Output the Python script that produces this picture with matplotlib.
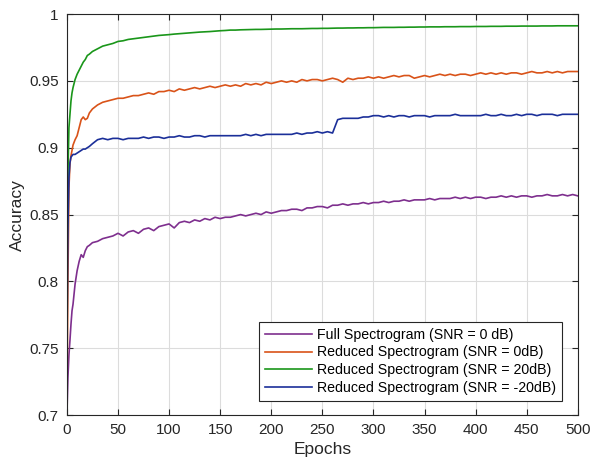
import matplotlib.pyplot as plt
import numpy as np

plt.rcParams['font.family'] = ['Liberation Sans', 'DejaVu Sans']

epochs = [0, 1, 2, 3, 4, 5, 6, 8, 10, 12, 14, 16, 18, 20, 22, 25] + list(range(30, 501, 5))

full_0db = [0.700, 0.728, 0.745, 0.756, 0.768, 0.778, 0.783, 0.798, 0.808, 0.815, 0.820, 0.818, 0.823, 0.826, 0.827, 0.829,
            0.830, 0.832, 0.833, 0.834, 0.836, 0.834, 0.837, 0.838, 0.836, 0.839, 0.840, 0.838, 0.841, 0.842, 0.843,
            0.840, 0.844, 0.845, 0.844, 0.846, 0.845, 0.847, 0.846, 0.848, 0.847, 0.848, 0.848, 0.849, 0.850, 0.849,
            0.850, 0.851, 0.850, 0.852, 0.851, 0.852, 0.853, 0.853, 0.854, 0.854, 0.853, 0.855, 0.855, 0.856, 0.856,
            0.855, 0.857, 0.857, 0.858, 0.857, 0.858, 0.858, 0.859, 0.858, 0.859, 0.859, 0.860, 0.859, 0.860, 0.860,
            0.861, 0.860, 0.861, 0.861, 0.861, 0.862, 0.861, 0.862, 0.862, 0.862, 0.863, 0.862, 0.863, 0.862, 0.863,
            0.863, 0.862, 0.863, 0.863, 0.864, 0.863, 0.864, 0.863, 0.864, 0.864, 0.863, 0.864, 0.864, 0.865, 0.864,
            0.864, 0.865, 0.864, 0.865, 0.864]

reduced_0db = [0.708, 0.800, 0.870, 0.888, 0.894, 0.898, 0.902, 0.906, 0.909, 0.915, 0.921, 0.923, 0.921, 0.922, 0.926, 0.929,
               0.932, 0.934, 0.935, 0.936, 0.937, 0.937, 0.938, 0.939, 0.939, 0.940, 0.941, 0.940, 0.942, 0.942, 0.943,
               0.942, 0.944, 0.943, 0.944, 0.945, 0.944, 0.945, 0.946, 0.945, 0.946, 0.947, 0.946, 0.947, 0.946, 0.948,
               0.947, 0.948, 0.947, 0.949, 0.948, 0.949, 0.950, 0.949, 0.950, 0.949, 0.951, 0.950, 0.951, 0.951, 0.950,
               0.951, 0.952, 0.951, 0.949, 0.952, 0.951, 0.952, 0.952, 0.953, 0.952, 0.953, 0.952, 0.953, 0.954, 0.953,
               0.954, 0.954, 0.952, 0.953, 0.954, 0.953, 0.954, 0.955, 0.954, 0.955, 0.954, 0.955, 0.955, 0.954, 0.955,
               0.956, 0.955, 0.956, 0.955, 0.956, 0.955, 0.956, 0.956, 0.955, 0.956, 0.957, 0.956, 0.956, 0.957, 0.956,
               0.957, 0.956, 0.957, 0.957, 0.957]

reduced_20db = [0.811, 0.880, 0.915, 0.925, 0.935, 0.941, 0.945, 0.951, 0.955, 0.958, 0.961, 0.964, 0.966, 0.969, 0.970, 0.972,
                0.974, 0.976, 0.977, 0.978, 0.9795, 0.980, 0.981, 0.9815, 0.982, 0.9825, 0.983, 0.9835, 0.984, 0.9843,
                0.9846, 0.985, 0.9853, 0.9856, 0.9859, 0.9862, 0.9865, 0.9867, 0.9869, 0.9872,
                0.9875, 0.9877, 0.988, 0.988, 0.9882, 0.9883, 0.9884, 0.9885, 0.9885, 0.9886,
                0.9887, 0.9888, 0.9888, 0.9889, 0.989, 0.989, 0.989, 0.9891, 0.9892, 0.9892,
                0.9893, 0.9893, 0.9894, 0.9895, 0.9895, 0.9896, 0.9896, 0.9897, 0.9897, 0.9898,
                0.9898, 0.9899, 0.990, 0.990, 0.990, 0.9901, 0.9901, 0.9902, 0.9902, 0.9903,
                0.9903, 0.9904, 0.9904, 0.9904, 0.9905, 0.9905, 0.9905, 0.9906, 0.9906, 0.9906,
                0.9907, 0.9907, 0.9907, 0.9908, 0.9908, 0.9908, 0.9909, 0.9909, 0.9909, 0.991,
                0.991, 0.991, 0.991, 0.9911, 0.9911, 0.9911, 0.9912, 0.9912, 0.9912, 0.9912, 0.9912]

reduced_m20db = [0.748, 0.840, 0.878, 0.889, 0.893, 0.894, 0.895, 0.895, 0.896, 0.897, 0.898, 0.899, 0.899, 0.900, 0.901, 0.903,
                 0.906, 0.907, 0.906, 0.907, 0.907, 0.906, 0.907, 0.907, 0.907, 0.908, 0.907, 0.908, 0.908, 0.907, 0.908,
                 0.908, 0.909, 0.908, 0.908, 0.909, 0.909, 0.908, 0.909, 0.909, 0.909, 0.909, 0.909, 0.909, 0.909, 0.910,
                 0.909, 0.910, 0.909, 0.910, 0.910, 0.910, 0.910, 0.910, 0.910, 0.911, 0.910, 0.911, 0.911, 0.912, 0.911,
                 0.912, 0.911, 0.921, 0.922, 0.922, 0.922, 0.922, 0.923, 0.923, 0.924, 0.924, 0.923, 0.924, 0.923, 0.924,
                 0.924, 0.923, 0.924, 0.924, 0.924, 0.923, 0.924, 0.924, 0.924, 0.924, 0.925, 0.924, 0.924, 0.924, 0.924,
                 0.924, 0.925, 0.924, 0.924, 0.925, 0.924, 0.924, 0.925, 0.924, 0.925, 0.925, 0.924, 0.925, 0.925, 0.925,
                 0.924, 0.925, 0.925, 0.925, 0.925]

labels = ["Full Spectrogram (SNR = 0 dB)",
          "Reduced Spectrogram (SNR = 0dB)",
          "Reduced Spectrogram (SNR = 20dB)",
          "Reduced Spectrogram (SNR = -20dB)"]
colors = ['#7E2F8E', '#D95319', '#1A961A', '#1B2F99']

fig = plt.figure(figsize=(5.92, 4.68), dpi=100)
ax = fig.add_axes([0.113, 0.113, 0.863, 0.857])

for series, lab, col in zip([full_0db, reduced_0db, reduced_20db, reduced_m20db], labels, colors):
    ax.plot(epochs, series, color=col, linewidth=1.2, label=lab)

ax.set_xlim(0, 500)
ax.set_ylim(0.7, 1.0)
ax.set_xticks(np.arange(0, 501, 50))
yt = [0.7, 0.75, 0.8, 0.85, 0.9, 0.95, 1.0]
ax.set_yticks(yt)
ax.set_yticklabels(['0.7', '0.75', '0.8', '0.85', '0.9', '0.95', '1'])
ax.grid(True, color='#dcdcdc', linewidth=0.8)
ax.set_axisbelow(True)
ax.tick_params(direction='in', top=True, right=True, labelsize=11, colors='#262626', length=4, pad=6)
for s in ax.spines.values():
    s.set_color('#262626')
    s.set_linewidth(0.8)
ax.set_xlabel('Epochs', fontsize=12.5, color='#262626', labelpad=3)
ax.set_ylabel('Accuracy', fontsize=12.5, color='#262626', labelpad=3)

leg = ax.legend(loc='lower right', fontsize=10.2, fancybox=False, framealpha=1,
                edgecolor='#262626', handlelength=3.3, handletextpad=0.4,
                borderpad=0.4, labelspacing=0.28, borderaxespad=0,
                bbox_to_anchor=(0.969, 0.035))
leg.get_frame().set_linewidth(0.8)

fig.savefig('out.png', dpi=100)
